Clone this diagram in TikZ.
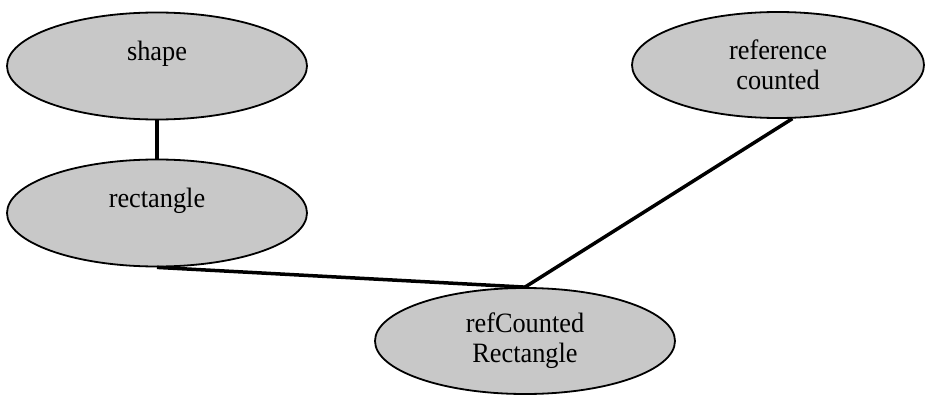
\documentclass[tikz,border=0pt]{standalone}
\usepackage{fontspec}
\setmainfont{Liberation Serif}[FakeStretch=0.94]
\usetikzlibrary{shapes.geometric}
\definecolor{nodegray}{RGB}{200,200,200}
\begin{document}
\begin{tikzpicture}[x=1pt,y=1pt,
  classnode/.style={ellipse, draw=black, line width=1.8pt, fill=nodegray,
    minimum width=300pt, minimum height=107pt, inner sep=0pt,
    align=center, font=\fontsize{28}{30}\selectfont},
  link/.style={line width=3.5pt, draw=black}]
\useasboundingbox (0,0) rectangle (926,397);
\node[classnode] (shape) at (157,331) {shape\\\mbox{}};
\node[classnode] (rect) at (157,184) {rectangle\\\mbox{}};
\node[classnode, minimum width=292pt, minimum height=106pt] (refc) at (778,332) {reference\\counted};
\node[classnode, minimum height=106pt] (rcr) at (525,56) {refCounted\\Rectangle};
\draw[link] (shape.south) -- (rect.north);
\draw[link] (rect.south) -- (rcr.north);
\draw[link] (refc.-75) -- (rcr.north);
\end{tikzpicture}
\end{document}
